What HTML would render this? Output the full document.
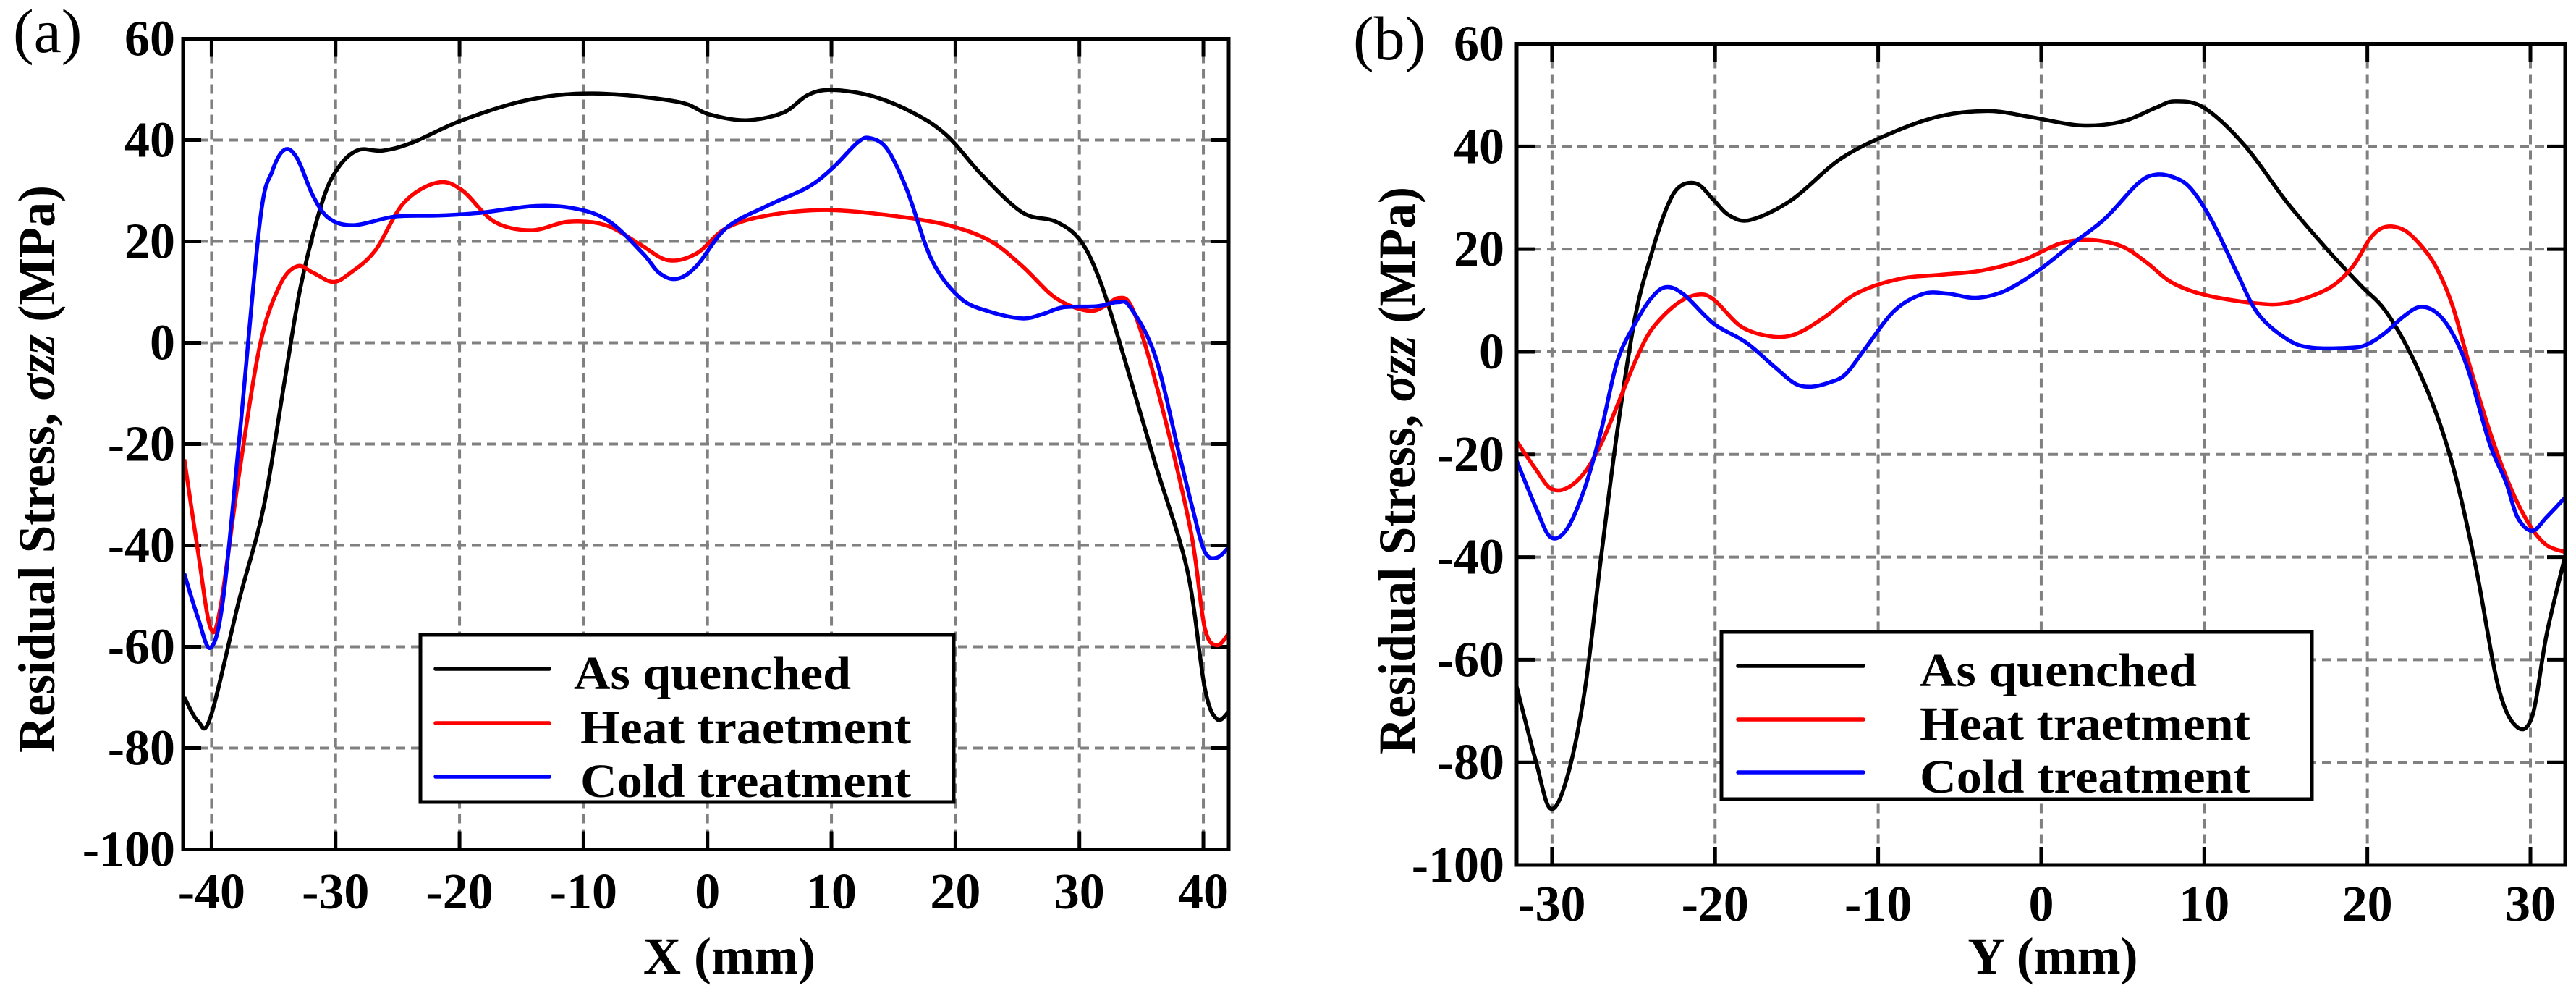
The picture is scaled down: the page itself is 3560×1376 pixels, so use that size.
<!DOCTYPE html>
<html><head><meta charset="utf-8"><style>
html,body{margin:0;padding:0;background:#fff}
svg{display:block}
text{font-family:"Liberation Serif",serif;font-weight:bold;fill:#000}
</style></head><body>
<svg id="chart" width="3560" height="1376" viewBox="0 0 3560 1376" xmlns="http://www.w3.org/2000/svg"></svg>
<script>
// ---- Panel (a) data ----
const aX_black=[-42.2,-41.1,-40.1,-37.8,-35.8,-34.1,-32.8,-31.1,-29.8,-28.2,-26.2,-23.8,-19.8,-14.5,-9.2,-2.5,0.1,3.1,6.1,8.1,10.1,13.4,16.8,19.4,22.1,25.4,28.1,30.1,31.7,33.4,36.1,38.7,40.1,41.1,42.1];
const aY_black=[-70,-74.7,-74,-51,-32.4,-7.4,11.3,27.6,34.5,38,37.9,39.5,43.9,47.9,49.2,47.6,45.1,43.9,45.4,48.9,49.9,48.6,45.1,40.7,33.2,25.7,23.9,20.1,12,-1.2,-23.7,-44.9,-68,-74.3,-72.7];
const aX_red=[-42.2,-41.1,-40.1,-39.3,-37.8,-36.1,-34.5,-33.1,-31.8,-30.2,-28.8,-26.8,-24.5,-21.8,-19.8,-17.2,-14.2,-11.2,-8.2,-5.5,-3.2,-0.9,1.5,4.8,9.5,14.8,19.4,22.8,25.4,28.1,30.7,32.1,33.1,34.1,35.4,37.4,39.1,40.1,41.1,42.1];
const aY_red=[-23,-41.2,-56.2,-52.4,-26.2,-0.5,11.3,15.1,13.8,12,13.8,18.2,27.6,31.6,30.1,23.9,22.2,23.9,23.2,19.5,16.3,17.6,22.6,25.1,26.2,25.1,23.2,20.1,15.1,8.8,6.3,7.3,8.8,7.6,-1.2,-19.9,-38.7,-56.2,-59.7,-57.2];
const aX_blue=[-42.2,-41.1,-40.1,-39.1,-37.8,-36.1,-35.1,-34.1,-33.1,-31.8,-30.5,-28.5,-25.2,-21.8,-18.5,-13.8,-10.5,-7.9,-5.2,-3.9,-2.5,-0.9,1.5,4.8,8.1,10.1,12.1,13.1,14.5,16.1,18.1,20.4,22.8,25.4,27.1,28.7,31.4,33.1,34.1,36.1,38.1,39.1,40.1,41.1,42.1];
const aY_blue=[-45.6,-54.3,-60.2,-51.2,-19.9,23.9,33.9,38.1,36.4,28.9,24.5,23.2,24.9,25.1,25.6,27,26.4,23.9,17.6,13.8,12.6,15.1,22.6,27,30.7,34.5,39.5,40.4,38.2,30.1,16.3,8.8,6.1,4.8,5.7,7,7.2,8,7,-2.5,-22.5,-32.4,-41.2,-42.4,-40.2];
// ---- Panel (b) data ----
const bX_black=[-32.2,-31,-30.1,-29.1,-28,-27,-26,-24.9,-23.9,-23,-22.2,-21.1,-20.1,-19.1,-17.8,-15.3,-12.3,-9.2,-6.2,-3.2,-0.6,2.4,4.9,7,8.2,10,12.5,15.1,17.6,19.6,21.1,22.7,24.2,25.4,26.7,28,29.1,30.1,31,32.1];
const bY_black=[-64.9,-79.7,-89,-83.2,-66.1,-40.2,-15.5,6.8,19.1,27.8,32.1,32.7,29.6,26.5,25.7,29.6,37.6,42.6,45.9,46.9,45.7,44.1,44.8,47.5,48.8,47.5,40.1,29,19.7,12.9,8,-0.7,-11.8,-24.1,-42.7,-64.9,-72.9,-71.1,-55,-40.2];
const bX_red=[-32.2,-31,-30.1,-29.1,-28,-27,-26,-24.9,-23.9,-22.4,-21.1,-20.1,-18.4,-16.6,-15.1,-13.3,-11.3,-8.7,-6.2,-3.7,-1.1,1.1,2.9,4.9,6.5,8,10,13,15.1,17.6,19.1,20.2,21.1,22.2,23.2,24.2,25.2,26.2,27.5,28.8,30,31,32.1];
const bY_red=[-17.3,-22.9,-26.6,-26.6,-23.5,-18,-10.5,-1.9,4.3,9.2,11.1,10.2,4.9,3,3.4,6.7,11.4,14.2,15,15.8,17.9,21,21.8,20.6,17.3,13.5,11.1,9.5,9.5,12.3,16.6,22.2,24.3,23.8,21,16.6,9.2,-1.9,-15.5,-26.6,-34,-37.7,-39];
const bX_blue=[-32.2,-31,-30.1,-29.1,-28,-27,-26,-24.9,-23.9,-23,-21.9,-20.1,-18.1,-16.3,-15.1,-14.1,-13,-12,-10.8,-9,-7.2,-5.7,-4,-2.2,-0.1,1.9,3.9,5.9,7,8.2,9.2,10.5,12,13.3,15.1,16.6,19.1,20.1,21.1,22.2,23.2,24.2,25.2,26.2,27.5,28.5,29.2,30.1,31,32.1];
const bY_blue=[-21,-30.3,-36.1,-34.6,-26.6,-15.5,-1.9,5.5,10.5,12.6,11.1,5.5,1.8,-3.1,-6.2,-6.8,-6,-4.4,0.6,8,11.3,11.3,10.5,11.9,16,21,25.9,32.7,34.5,33.9,31.7,25.3,15.4,7.4,2.4,0.8,0.8,1.6,3.7,6.8,8.7,7.7,3.7,-3.7,-17.9,-25.4,-32.2,-34.9,-32.2,-28.5];
const yTicks=[60,40,20,0,-20,-40,-60,-80,-100];
const aXTicks=[-40,-30,-20,-10,0,10,20,30,40];
const bXTicks=[-30,-20,-10,0,10,20,30];
const legendLabels=["As quenched","Heat traetment","Cold treatment"];
const colors=["#000000","#ff0000","#0000ff"];

const NS="http://www.w3.org/2000/svg";
const svg=document.getElementById('chart');
function el(tag,attrs,parent){const e=document.createElementNS(NS,tag);for(const k in attrs)e.setAttribute(k,attrs[k]);(parent||svg).appendChild(e);return e;}
function smoothPath(p){
  let d='M'+p[0][0].toFixed(1)+','+p[0][1].toFixed(1);
  for(let i=0;i<p.length-1;i++){
    const p0=p[Math.max(0,i-1)],p1=p[i],p2=p[i+1],p3=p[Math.min(p.length-1,i+2)];
    const t=0.5/3;
    const c1=[p1[0]+(p2[0]-p0[0])*t,p1[1]+(p2[1]-p0[1])*t];
    const c2=[p2[0]-(p3[0]-p1[0])*t,p2[1]-(p3[1]-p1[1])*t];
    d+=' C'+c1[0].toFixed(1)+','+c1[1].toFixed(1)+' '+c2[0].toFixed(1)+','+c2[1].toFixed(1)+' '+p2[0].toFixed(1)+','+p2[1].toFixed(1);
  }
  return d;
}

function panel(cfg){
  const g=el('g',{});
  
  
  const sx=v=>cfg.L+(v-cfg.xmin)/(cfg.xmax-cfg.xmin)*(cfg.R-cfg.L);
  const sy=v=>cfg.T+(60-v)/160*(cfg.B-cfg.T);
  yTicks.forEach(t=>{
    if(t===60||t===-100)return;
    const l=el('line',{x1:cfg.L,x2:cfg.R,y1:sy(t),y2:sy(t),stroke:'#808080','stroke-width':4,'stroke-dasharray':'13 8'},g);
    
    
  });
  cfg.xt.forEach(t=>{
    const l=el('line',{x1:sx(t),x2:sx(t),y1:cfg.T,y2:cfg.B,stroke:'#808080','stroke-width':4,'stroke-dasharray':'13 8'},g);
    
    
  });
  yTicks.forEach(t=>{
    el('line',{x1:cfg.L,x2:cfg.L+25,y1:sy(t),y2:sy(t),stroke:'#000','stroke-width':5},g);
    el('line',{x1:cfg.R-25,x2:cfg.R,y1:sy(t),y2:sy(t),stroke:'#000','stroke-width':5},g);
    const tx=el('text',{x:cfg.ylabX,y:sy(t)+23,'text-anchor':'end','font-size':70},g);
    tx.textContent=t;
    
    
  });
  cfg.xt.forEach(t=>{
    el('line',{x1:sx(t),x2:sx(t),y1:cfg.T,y2:cfg.T+25,stroke:'#000','stroke-width':5},g);
    el('line',{x1:sx(t),x2:sx(t),y1:cfg.B-25,y2:cfg.B,stroke:'#000','stroke-width':5},g);
    const tx=el('text',{x:sx(t),y:cfg.xlabY,'text-anchor':'middle','font-size':70},g);
    tx.textContent=t;
    
    
  });
  const clip='clip-'+cfg.name;
  const cp=el('clipPath',{id:clip},g);
  el('rect',{x:cfg.L,y:cfg.T,width:cfg.R-cfg.L,height:cfg.B-cfg.T},cp);
  cfg.series.forEach((s,i)=>{
    const pts=s[0].map((x,j)=>[sx(x),sy(s[1][j])]);
    const p=el('path',{d:smoothPath(pts),fill:'none',stroke:colors[i],'stroke-width':5.5,'stroke-linejoin':'round','clip-path':'url(#'+clip+')'},g);
    
    
  });
  const f=el('rect',{x:cfg.L,y:cfg.T,width:cfg.R-cfg.L,height:cfg.B-cfg.T,fill:'none',stroke:'#000','stroke-width':5},g);
  
  
  const lg=el('g',{},g);
  
  
  el('rect',{x:cfg.lg[0],y:cfg.lg[1],width:cfg.lg[2]-cfg.lg[0],height:cfg.lg[3]-cfg.lg[1],fill:'#fff',stroke:'#000','stroke-width':5},lg);
  legendLabels.forEach((lab,i)=>{
    const e=el('g',{},lg);
    
    
    el('line',{x1:cfg.ll[0],x2:cfg.ll[1],y1:cfg.ly[i],y2:cfg.ly[i],stroke:colors[i],'stroke-width':5.5,'stroke-linecap':'round'},e);
    const t=el('text',{x:cfg.tx[i],y:cfg.ly[i]+28,'font-size':66,textLength:cfg.tw[i],lengthAdjust:'spacingAndGlyphs'},e);
    t.textContent=lab;
  });
  const xt=el('text',{x:cfg.xTitle[0],y:1345,'text-anchor':'middle','font-size':72},g);
  xt.textContent=cfg.xTitleText;
  
  
  const yt=el('text',{x:0,y:0,'text-anchor':'middle','font-size':72,transform:`translate(${cfg.yTitle[0]+24},${cfg.yTitle[1]}) rotate(-90)`,textLength:784,lengthAdjust:'spacingAndGlyphs'},g);
  yt.innerHTML='Residual Stress, <tspan font-style="italic">σzz</tspan> (MPa)';
  
  
  const pl=el('text',{x:cfg.plab[0],y:cfg.plab[1],'font-size':86,style:'font-weight:normal'},g);
  pl.textContent=cfg.plabText;
  
  
}

panel({name:'panel-a',L:253,R:1698,T:53.5,B:1173.5,xmin:-42.3,xmax:42.04,xt:aXTicks,ylabX:242,xlabY:1255,
  series:[[aX_black,aY_black],[aX_red,aY_red],[aX_blue,aY_blue]],
  lg:[581,877,1318,1108],ll:[602,759],ly:[924,999,1073],tx:[793,802,802],tw:[383,457,457],
  xTitle:[1008],xTitleText:'X (mm)',yTitle:[51,648],plab:[18,72],plabText:'(a)'});
panel({name:'panel-b',L:2096,R:3545,T:60.5,B:1195,xmin:-32.17,xmax:32.13,xt:bXTicks,ylabX:2079,xlabY:1272,
  series:[[bX_black,bY_black],[bX_red,bY_red],[bX_blue,bY_blue]],
  lg:[2379,873,3195,1104],ll:[2402,2575],ly:[920,994,1067],tx:[2653,2653,2653],tw:[383,457,457],
  xTitle:[2837],xTitleText:'Y (mm)',yTitle:[1931,650],plab:[1870,82],plabText:'(b)'});
</script>
</body></html>
